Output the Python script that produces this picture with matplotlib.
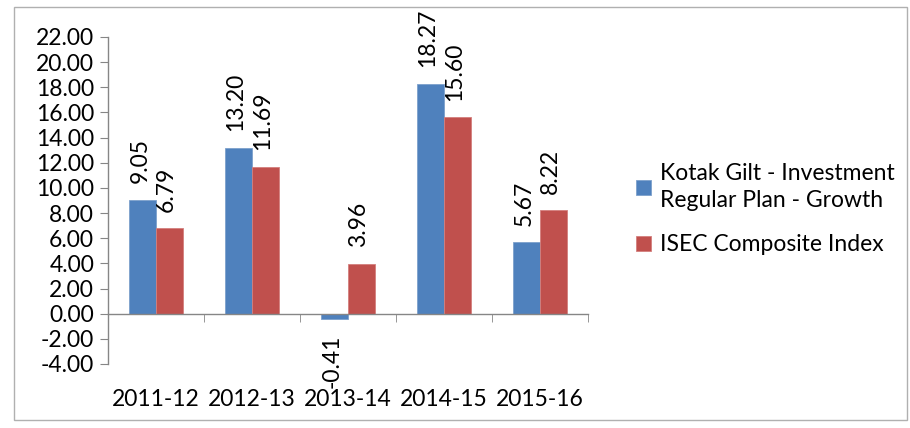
import numpy as np
import matplotlib.pyplot as plt
from matplotlib.patches import Rectangle

years = ["2011-12", "2012-13", "2013-14", "2014-15", "2015-16"]
fund = [9.05, 13.20, -0.41, 18.27, 5.67]
index = [6.79, 11.69, 3.96, 15.60, 8.22]
fund_name = "Kotak Gilt - Investment\nRegular Plan - Growth"
index_name = "ISEC Composite Index"

plt.rcParams["font.family"] = ["Lato", "DejaVu Sans"]
fs = 16.5

fig = plt.figure(figsize=(9.1, 4.28), dpi=100)
fig.patches.append(Rectangle((14 / 910, 8 / 428), 893 / 910, 413 / 428, transform=fig.transFigure,
                             fill=False, edgecolor="#b0b0b0", linewidth=1.0))
ax = fig.add_axes([108 / 910, 64 / 428, 480 / 910, 327 / 428])

x = np.arange(len(years))
w = 0.28
b1 = ax.bar(x - w / 2, fund, w, color="#4F81BD", edgecolor="#7DA0CC", linewidth=0.6, label=fund_name)
b2 = ax.bar(x + w / 2, index, w, color="#C0504D", edgecolor="#D47F7D", linewidth=0.6, label=index_name)

for bars, vals in ((b1, fund), (b2, index)):
    for rect, v in zip(bars, vals):
        cx = rect.get_x() + rect.get_width() / 2
        off = 12 if v >= 0 else -11
        ax.annotate(f"{v:.2f}", (cx, v), xytext=(-2, off), textcoords="offset points",
                    rotation=90, ha="center", va="bottom" if v >= 0 else "top", fontsize=fs)

ax.set_xlim(-0.5, len(years) - 0.5)
ax.set_ylim(-4, 22)
ax.set_yticks(np.arange(-4, 23, 2))
ax.set_yticklabels([f"{t:.2f}" for t in np.arange(-4, 23, 2)])

ax.set_xticks(x)
ax.set_xticklabels(years)
ax.set_xticks(np.arange(-0.5, len(years), 1), minor=True)
ax.tick_params(axis="x", which="major", length=0, pad=54, labelsize=fs)
ax.tick_params(axis="x", which="minor", length=6, color="#868686", direction="out")
ax.tick_params(axis="y", length=6, color="#868686", direction="out", pad=4, labelsize=fs)

ax.spines["bottom"].set_position(("data", 0))
for s in ("top", "right"):
    ax.spines[s].set_visible(False)
for s in ("left", "bottom"):
    ax.spines[s].set_color("#868686")
    ax.spines[s].set_linewidth(1.0)

leg = fig.legend(handles=[b1, b2], loc="upper left", bbox_to_anchor=(615 / 910, 1 - 142 / 428),
                 frameon=False, fontsize=fs, handlelength=0.65, handleheight=0.65, handletextpad=0.4,
                 labelspacing=1.0)
for t in leg.get_texts():
    t.set_linespacing(1.4)

fig.savefig("out.png", dpi=100)
